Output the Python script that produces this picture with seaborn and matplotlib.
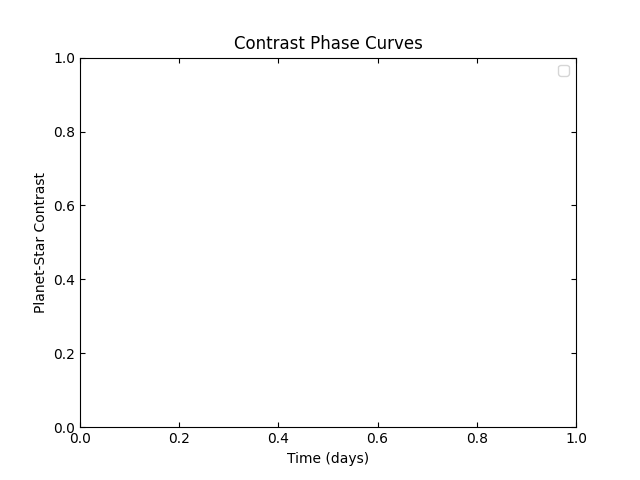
import matplotlib
matplotlib.use('Agg')
import matplotlib.pyplot as plt
import seaborn as sns
import pandas as pd

# 相位曲线数据（参考图中没有画出任何曲线）
time_days = []
contrast = []
planet_names = []

df = pd.DataFrame({'time': time_days, 'contrast': contrast, 'planet': planet_names})

fig, ax = plt.subplots(figsize=(6.4, 4.8), dpi=100)
if len(df):
    sns.lineplot(data=df, x='time', y='contrast', hue='planet', ax=ax)

ax.set_xlim(0, 1)
ax.set_ylim(0, 1)
ax.set_xlabel('Time (days)')
ax.set_ylabel('Planet-Star Contrast')
ax.set_title('Contrast Phase Curves')
ax.tick_params(direction='in', top=True, right=True)
ax.legend()

plt.savefig('out.png')
plt.close()
